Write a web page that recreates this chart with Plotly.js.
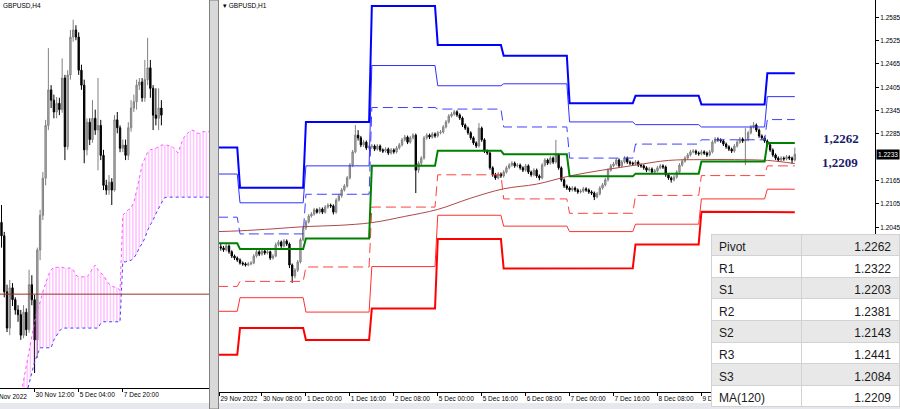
<!DOCTYPE html>
<html><head><meta charset="utf-8">
<script src="https://cdn.plot.ly/plotly-3.0.1.min.js"></script>
<style>html,body{margin:0;padding:0;background:#fff;overflow:hidden}#chart{width:900px;height:409px}</style>
</head><body><div id="chart"></div>
<script>
// ---------- LEFT PANEL: GBPUSD H4 ----------
const h4Open = [1.2094,1.2077,1.2006,1.1960,1.2011,1.1996,1.1983,1.1977,1.1951,1.1980,1.1958,1.2015,1.1996,1.1945,1.2059,1.2103,1.2150,1.2217,1.2262,1.2249,1.2234,1.2245,1.2237,1.2277,1.2190,1.2281,1.2329,1.2338,1.2329,1.2287,1.2268,1.2186,1.2221,1.2199,1.2226,1.2211,1.2217,1.2179,1.2141,1.2135,1.2145,1.2135,1.2224,1.2214,1.2188,1.2192,1.2179,1.2214,1.2239,1.2247,1.2268,1.2272,1.2252,1.2275,1.2290,1.2264,1.2230,1.2226,1.2239];
const h4High = [1.2116,1.2082,1.2015,1.2021,1.2017,1.1999,1.1989,1.1983,1.1989,1.1985,1.2034,1.2027,1.2002,1.2062,1.2110,1.2158,1.2224,1.2315,1.2268,1.2256,1.2253,1.2252,1.2302,1.2281,1.2287,1.2338,1.2351,1.2344,1.2335,1.2294,1.2275,1.2226,1.2226,1.2249,1.2237,1.2277,1.2224,1.2186,1.2148,1.2154,1.2150,1.2230,1.2234,1.2217,1.2199,1.2199,1.2221,1.2249,1.2256,1.2275,1.2277,1.2277,1.2300,1.2328,1.2300,1.2268,1.2264,1.2264,1.2249];
const h4Low = [1.2062,1.1999,1.1955,1.1951,1.1988,1.1977,1.1968,1.1945,1.1947,1.1950,1.1954,1.1989,1.1903,1.1922,1.2046,1.2097,1.2141,1.2211,1.2239,1.2226,1.2226,1.2230,1.2233,1.2173,1.2186,1.2275,1.2323,1.2325,1.2281,1.2262,1.2169,1.2179,1.2192,1.2195,1.2205,1.2160,1.2173,1.2135,1.2129,1.2129,1.2116,1.2133,1.2207,1.2183,1.2183,1.2173,1.2173,1.2209,1.2234,1.2237,1.2262,1.2247,1.2247,1.2268,1.2252,1.2211,1.2217,1.2211,1.2217];
const h4Close = [1.2077,1.2006,1.1960,1.2011,1.1996,1.1983,1.1977,1.1951,1.1980,1.1958,1.2015,1.1996,1.1945,1.2059,1.2103,1.2150,1.2217,1.2262,1.2249,1.2234,1.2245,1.2237,1.2277,1.2190,1.2281,1.2329,1.2338,1.2329,1.2287,1.2268,1.2186,1.2221,1.2199,1.2226,1.2211,1.2217,1.2179,1.2141,1.2135,1.2145,1.2135,1.2224,1.2214,1.2188,1.2192,1.2179,1.2214,1.2239,1.2247,1.2268,1.2272,1.2252,1.2275,1.2290,1.2264,1.2230,1.2226,1.2239,1.2230];
const cloudFirstBar = 6;
const cloudUpper = [1.1856,1.1875,1.1894,1.1913,1.1932,1.1951,1.1968,1.1983,1.1993,1.2006,1.2017,1.2027,1.2034,1.2037,1.2037,1.2037,1.2037,1.2036,1.2036,1.2036,1.2034,1.2027,1.2025,1.2025,1.2025,1.2025,1.2029,1.2036,1.2040,1.2034,1.2030,1.2027,1.2021,1.2016,1.2013,1.2012,1.2011,1.2008,1.2103,1.2107,1.2110,1.2113,1.2119,1.2133,1.2150,1.2167,1.2176,1.2183,1.2186,1.2187,1.2188,1.2190,1.2192,1.2192,1.2192,1.2191,1.2190,1.2186,1.2182,1.2192,1.2201,1.2205,1.2209,1.2211,1.2210,1.2207,1.2207,1.2209,1.2209,1.2209,1.2209];
const cloudLower = [1.1843,1.1843,1.1862,1.1875,1.1888,1.1904,1.1917,1.1926,1.1935,1.1935,1.1935,1.1935,1.1935,1.1945,1.1951,1.1956,1.1960,1.1960,1.1960,1.1960,1.1960,1.1960,1.1960,1.1960,1.1960,1.1960,1.1960,1.1960,1.1960,1.1960,1.1966,1.1968,1.1968,1.1968,1.1968,1.1968,1.1968,1.1968,1.2044,1.2044,1.2045,1.2046,1.2049,1.2054,1.2062,1.2067,1.2074,1.2084,1.2091,1.2097,1.2105,1.2112,1.2119,1.2125,1.2126,1.2126,1.2126,1.2126,1.2126,1.2126,1.2126,1.2126,1.2126,1.2126,1.2126,1.2126,1.2126,1.2126,1.2126,1.2126,1.2126];
const h4Level = 1.2003;
const h4TickBars = [12, 28, 44];
const h4TickText = ['30 Nov 12:00', '5 Dec 04:00', '7 Dec 20:00'];

// ---------- RIGHT PANEL: GBPUSD H1 ----------
const h1FirstBar = -7;
const h1Open = [1.1995,1.1992,1.1987,1.1997,1.1982,1.1971,1.1966,
1.1961,1.1953,1.1951,1.1948,1.1951,1.1953,1.1971,1.1982,
1.1976,1.1984,1.1979,1.1982,1.1966,1.1971,1.2000,1.2007,
1.1997,1.2010,1.2002,1.1948,1.1920,1.1935,1.1956,1.2013,
1.2043,1.2059,1.2074,1.2079,1.2090,1.2084,1.2092,1.2084,
1.2097,1.2102,1.2100,1.2084,1.2115,1.2126,1.2141,1.2151,
1.2172,1.2205,1.2239,1.2282,1.2275,1.2257,1.2264,1.2249,
1.2252,1.2254,1.2246,1.2254,1.2244,1.2241,1.2246,1.2236,
1.2244,1.2239,1.2249,1.2257,1.2270,1.2277,1.2264,1.2275,
1.2282,1.2192,1.2210,1.2223,1.2275,1.2282,1.2277,1.2285,
1.2280,1.2288,1.2290,1.2303,1.2316,1.2331,1.2336,1.2342,
1.2334,1.2326,1.2308,1.2300,1.2288,1.2275,1.2262,1.2254,
1.2300,1.2270,1.2241,1.2236,1.2198,1.2180,1.2172,1.2182,
1.2177,1.2187,1.2198,1.2205,1.2210,1.2203,1.2205,1.2198,
1.2192,1.2203,1.2187,1.2180,1.2192,1.2177,1.2172,1.2205,
1.2218,1.2210,1.2223,1.2213,1.2231,1.2198,1.2167,1.2151,
1.2146,1.2141,1.2146,1.2141,1.2136,1.2138,1.2144,1.2141,
1.2136,1.2133,1.2123,1.2131,1.2146,1.2154,1.2167,1.2192,
1.2203,1.2208,1.2218,1.2203,1.2213,1.2223,1.2213,1.2210,
1.2208,1.2213,1.2205,1.2203,1.2198,1.2192,1.2195,1.2187,
1.2190,1.2198,1.2203,1.2200,1.2180,1.2172,1.2167,1.2174,
1.2187,1.2205,1.2215,1.2223,1.2231,1.2239,1.2241,1.2236,
1.2234,1.2239,1.2236,1.2231,1.2239,1.2264,1.2272,1.2270,
1.2267,1.2259,1.2252,1.2246,1.2241,1.2254,1.2264,1.2272,
1.2267,1.2270,1.2288,1.2303,1.2308,1.2295,1.2280,1.2275,
1.2267,1.2257,1.2244,1.2231,1.2223,1.2218,1.2223,1.2221,
1.2226,1.2223,1.2218];
const h1High = [1.2002,1.1997,1.2003,1.2001,1.1986,1.1975,1.1970,
1.1965,1.1957,1.1955,1.1956,1.1958,1.1976,1.1987,1.1986,
1.1989,1.1988,1.1987,1.1985,1.1976,1.2006,1.2012,1.2011,
1.2015,1.2014,1.2006,1.1952,1.1940,1.1961,1.2018,1.2048,
1.2064,1.2079,1.2084,1.2095,1.2094,1.2097,1.2096,1.2102,
1.2107,1.2106,1.2104,1.2120,1.2131,1.2146,1.2156,1.2177,
1.2210,1.2244,1.2308,1.2295,1.2280,1.2270,1.2268,1.2257,
1.2259,1.2258,1.2259,1.2258,1.2248,1.2251,1.2250,1.2249,
1.2248,1.2254,1.2262,1.2275,1.2283,1.2281,1.2280,1.2287,
1.2286,1.2215,1.2228,1.2280,1.2287,1.2286,1.2290,1.2289,
1.2293,1.2295,1.2308,1.2321,1.2336,1.2341,1.2347,1.2346,
1.2338,1.2330,1.2312,1.2304,1.2292,1.2279,1.2266,1.2313,
1.2304,1.2274,1.2245,1.2240,1.2202,1.2185,1.2187,1.2186,
1.2192,1.2203,1.2210,1.2215,1.2214,1.2210,1.2209,1.2202,
1.2208,1.2207,1.2191,1.2197,1.2196,1.2181,1.2210,1.2223,
1.2222,1.2228,1.2227,1.2270,1.2235,1.2202,1.2171,1.2155,
1.2150,1.2151,1.2150,1.2145,1.2143,1.2149,1.2148,1.2145,
1.2140,1.2137,1.2136,1.2151,1.2159,1.2172,1.2197,1.2208,
1.2213,1.2223,1.2222,1.2218,1.2228,1.2227,1.2217,1.2214,
1.2218,1.2217,1.2209,1.2207,1.2202,1.2200,1.2199,1.2195,
1.2203,1.2208,1.2207,1.2204,1.2184,1.2176,1.2179,1.2192,
1.2210,1.2220,1.2228,1.2236,1.2244,1.2246,1.2245,1.2240,
1.2244,1.2243,1.2240,1.2244,1.2269,1.2277,1.2276,1.2274,
1.2271,1.2263,1.2256,1.2250,1.2259,1.2269,1.2277,1.2276,
1.2300,1.2293,1.2308,1.2316,1.2312,1.2299,1.2284,1.2279,
1.2271,1.2261,1.2248,1.2235,1.2227,1.2228,1.2227,1.2231,
1.2230,1.2227,1.2250];
const h1Low = [1.1985,1.1982,1.1983,1.1977,1.1966,1.1961,1.1956,
1.1949,1.1946,1.1944,1.1945,1.1947,1.1950,1.1967,1.1971,
1.1972,1.1974,1.1975,1.1961,1.1962,1.1968,1.1996,1.1992,
1.1993,1.1997,1.1940,1.1902,1.1914,1.1930,1.1952,1.2009,
1.2038,1.2055,1.2070,1.2075,1.2080,1.2080,1.2079,1.2080,
1.2093,1.2095,1.2078,1.2080,1.2111,1.2121,1.2137,1.2147,
1.2168,1.2200,1.2235,1.2268,1.2251,1.2252,1.2244,1.2245,
1.2247,1.2241,1.2242,1.2239,1.2236,1.2237,1.2231,1.2232,
1.2234,1.2235,1.2245,1.2253,1.2266,1.2259,1.2260,1.2271,
1.2133,1.2185,1.2205,1.2219,1.2270,1.2272,1.2273,1.2275,
1.2276,1.2284,1.2286,1.2299,1.2312,1.2327,1.2332,1.2329,
1.2321,1.2303,1.2295,1.2283,1.2270,1.2257,1.2249,1.2250,
1.2265,1.2236,1.2231,1.2193,1.2175,1.2167,1.2168,1.2172,
1.2173,1.2183,1.2194,1.2201,1.2198,1.2199,1.2193,1.2187,
1.2188,1.2182,1.2175,1.2176,1.2172,1.2166,1.2168,1.2201,
1.2205,1.2206,1.2208,1.2209,1.2193,1.2162,1.2146,1.2141,
1.2136,1.2137,1.2136,1.2131,1.2132,1.2134,1.2136,1.2131,
1.2128,1.2115,1.2119,1.2127,1.2142,1.2150,1.2163,1.2188,
1.2199,1.2204,1.2198,1.2199,1.2209,1.2208,1.2205,1.2203,
1.2204,1.2200,1.2198,1.2193,1.2187,1.2188,1.2182,1.2183,
1.2186,1.2194,1.2195,1.2175,1.2167,1.2160,1.2163,1.2170,
1.2183,1.2201,1.2211,1.2219,1.2227,1.2235,1.2231,1.2229,
1.2230,1.2231,1.2226,1.2227,1.2235,1.2260,1.2265,1.2262,
1.2254,1.2247,1.2241,1.2236,1.2237,1.2250,1.2260,1.2262,
1.2205,1.2266,1.2284,1.2299,1.2290,1.2275,1.2270,1.2262,
1.2252,1.2239,1.2226,1.2218,1.2213,1.2214,1.2216,1.2217,
1.2218,1.2208,1.2214];
const h1Close = [1.1992,1.1987,1.1997,1.1982,1.1971,1.1966,1.1961,
1.1953,1.1951,1.1948,1.1951,1.1953,1.1971,1.1982,1.1976,
1.1984,1.1979,1.1982,1.1966,1.1971,1.2000,1.2007,1.1997,
1.2010,1.2002,1.1948,1.1920,1.1935,1.1956,1.2013,1.2043,
1.2059,1.2074,1.2079,1.2090,1.2084,1.2092,1.2084,1.2097,
1.2102,1.2100,1.2084,1.2115,1.2126,1.2141,1.2151,1.2172,
1.2205,1.2239,1.2282,1.2275,1.2257,1.2264,1.2249,1.2252,
1.2254,1.2246,1.2254,1.2244,1.2241,1.2246,1.2236,1.2244,
1.2239,1.2249,1.2257,1.2270,1.2277,1.2264,1.2275,1.2282,
1.2192,1.2210,1.2223,1.2275,1.2282,1.2277,1.2285,1.2280,
1.2288,1.2290,1.2303,1.2316,1.2331,1.2336,1.2342,1.2334,
1.2326,1.2308,1.2300,1.2288,1.2275,1.2262,1.2254,1.2300,
1.2270,1.2241,1.2236,1.2198,1.2180,1.2172,1.2182,1.2177,
1.2187,1.2198,1.2205,1.2210,1.2203,1.2205,1.2198,1.2192,
1.2203,1.2187,1.2180,1.2192,1.2177,1.2172,1.2205,1.2218,
1.2210,1.2223,1.2213,1.2231,1.2198,1.2167,1.2151,1.2146,
1.2141,1.2146,1.2141,1.2136,1.2138,1.2144,1.2141,1.2136,
1.2133,1.2123,1.2131,1.2146,1.2154,1.2167,1.2192,1.2203,
1.2208,1.2218,1.2203,1.2213,1.2223,1.2213,1.2210,1.2208,
1.2213,1.2205,1.2203,1.2198,1.2192,1.2195,1.2187,1.2190,
1.2198,1.2203,1.2200,1.2180,1.2172,1.2167,1.2174,1.2187,
1.2205,1.2215,1.2223,1.2231,1.2239,1.2241,1.2236,1.2234,
1.2239,1.2236,1.2231,1.2239,1.2264,1.2272,1.2270,1.2267,
1.2259,1.2252,1.2246,1.2241,1.2254,1.2264,1.2272,1.2267,
1.2270,1.2288,1.2303,1.2308,1.2295,1.2280,1.2275,1.2267,
1.2257,1.2244,1.2231,1.2223,1.2218,1.2223,1.2221,1.2226,
1.2223,1.2218,1.2233];

// Daily pivot levels (29 Nov, 30 Nov, 1 Dec, 2 Dec, 5 Dec, 6 Dec, 7 Dec, 8 Dec, 9 Dec, current day)
const barsPerDay = 24;
const R3 = [1.2250,1.2147,1.2316,1.2614,1.2514,1.2486,1.2364,1.2383,1.2361,1.2441];
const R2 = [1.2182,1.2108,1.2203,1.2461,1.2409,1.2414,1.2316,1.2309,1.2303,1.2381];
const R1 = [1.2071,1.2028,1.2130,1.2353,1.2349,1.2303,1.2223,1.2259,1.2270,1.2322];
const PP = [1.2004,1.1989,1.2016,1.2203,1.2242,1.2233,1.2176,1.2183,1.2214,1.2262];
const S1 = [1.1893,1.1906,1.1943,1.2097,1.2180,1.2118,1.2081,1.2127,1.2178,1.2203];
const S2 = [1.1829,1.1864,1.1827,1.1944,1.2076,1.2048,1.2034,1.2053,1.2118,1.2143];
const S3 = [1.1717,1.1786,1.1755,1.1836,1.2015,1.1939,1.1940,1.2001,1.2085,1.2084];

// MA(120) read at sample bars
const maBars = [-8,0,12,24,36,48,60,72,84,96,108,120,132,144,156,168,180,192,202];
const maVals = [1.2034,1.2036,1.2041,1.2047,1.2050,1.2057,1.2073,1.2091,1.2120,1.2144,1.2156,1.2177,1.2192,1.2205,1.2217,1.2219,1.2219,1.2217,1.2209];

const h1TickBars = [-7.5,8,24,40,56,72,88,104,120,136,152,168];
const h1TickText = ['29 Nov 2022','30 Nov 08:00','1 Dec 00:00','1 Dec 16:00','2 Dec 08:00','5 Dec 00:00','5 Dec 16:00','6 Dec 08:00','7 Dec 00:00','7 Dec 16:00','8 Dec 08:00','9 Dec 00:00'];
const priceTicks = [1.2045,1.2105,1.2165,1.2285,1.2345,1.2405,1.2465,1.2525,1.2585];
const lastPrice = 1.2233;

const tableLabels = ['Pivot','R1','S1','R2','S2','R3','S3','MA(120)'];
const tableValues = ['1.2262','1.2322','1.2203','1.2381','1.2143','1.2441','1.2084','1.2209'];

// ---------- build ----------
const W = 900, H = 409;
const px = v => v / W;
const py = v => 1 - v / H;

const h4Bars = h4Close.map((_, k) => k);
const cloudBars = cloudUpper.map((_, k) => cloudFirstBar + k);
const h1Bars = h1Close.map((_, k) => h1FirstBar + k);
const lineBars = [];
for (let i = -8; i <= 202; i++) lineBars.push(i);
const dayIndex = i => Math.floor(i / barsPerDay) + 1;
const perBar = levels => lineBars.map(i => levels[dayIndex(i)]);

const traces = [];
// left panel
traces.push({type:'scatter', mode:'lines', x:cloudBars, y:cloudLower, xaxis:'x', yaxis:'y',
  line:{color:'#4040ff', width:1, dash:'dot'}, hoverinfo:'skip'});
traces.push({type:'scatter', mode:'lines', x:cloudBars, y:cloudUpper, xaxis:'x', yaxis:'y',
  line:{color:'#ff55ff', width:1, dash:'dot'}, fill:'tonexty', fillcolor:'rgba(0,0,0,0)',
  fillpattern:{shape:'|', fgcolor:'#ff66ff', fgopacity:0.85, bgcolor:'rgba(255,255,255,0)', size:3.2, solidity:0.22},
  hoverinfo:'skip'});
traces.push({type:'scatter', mode:'lines', x:[-1, 80], y:[h4Level, h4Level], xaxis:'x', yaxis:'y',
  line:{color:'#9b2d2d', width:1}, hoverinfo:'skip'});
traces.push({type:'candlestick', x:h4Bars, open:h4Open, high:h4High, low:h4Low, close:h4Close,
  xaxis:'x', yaxis:'y', whiskerwidth:0,
  increasing:{line:{color:'#808080', width:1}, fillcolor:'#b4b4b4'},
  decreasing:{line:{color:'#000000', width:1}, fillcolor:'#000000'}, hoverinfo:'skip'});

// right panel
traces.push({type:'scatter', mode:'lines', x:maBars, y:maVals, xaxis:'x2', yaxis:'y2',
  line:{color:'#b04848', width:1, shape:'spline'}, hoverinfo:'skip'});
const levelStyles = [
  [S3, '#ff0000', 2, 'solid'],
  [S2, '#ff3030', 1, 'solid'],
  [S1, '#ff4040', 1, '10px,5px'],
  [R1, '#4040ff', 1, '10px,5px'],
  [R2, '#3030ff', 1, 'solid'],
  [R3, '#0000ff', 2, 'solid'],
  [PP, '#008000', 2, 'solid']
];
levelStyles.forEach(([lv, c, w, d]) => {
  traces.push({type:'scatter', mode:'lines', x:lineBars, y:perBar(lv), xaxis:'x2', yaxis:'y2',
    line:{color:c, width:w, dash:d}, hoverinfo:'skip'});
});
traces.push({type:'candlestick', x:h1Bars, open:h1Open, high:h1High, low:h1Low, close:h1Close,
  xaxis:'x2', yaxis:'y2', whiskerwidth:0,
  increasing:{line:{color:'#808080', width:1}, fillcolor:'#b4b4b4'},
  decreasing:{line:{color:'#000000', width:1}, fillcolor:'#000000'}, hoverinfo:'skip'});

// table
const rowH = 21.6;
const gray = '#e8e8e8', white = '#ffffff';
const bodyColors = tableLabels.slice(1).map((_, k) => (k % 2 === 0 ? white : gray));
traces.push({type:'table',
  domain:{x:[px(711), 1], y:[0, py(234)]},
  columnwidth:[91, 98],
  header:{values:[tableLabels[0], tableValues[0]], height:rowH, align:['left','right'],
    fill:{color:gray}, line:{color:'#d2d2d2', width:1},
    font:{family:'Liberation Sans, Arial, sans-serif', size:12, color:'#1a1a1a'}},
  cells:{values:[tableLabels.slice(1), tableValues.slice(1)], height:rowH, align:['left','right'],
    fill:{color:[bodyColors, bodyColors]}, line:{color:'#d2d2d2', width:1},
    font:{family:'Liberation Sans, Arial, sans-serif', size:12, color:'#1a1a1a'}}
});

const axFont = {family:'Liberation Sans, Arial, sans-serif', size:6.5, color:'#000'};
const layout = {
  width:W, height:H, margin:{l:0, r:0, t:0, b:0},
  paper_bgcolor:'#ffffff', plot_bgcolor:'#ffffff', showlegend:false,
  font:axFont,
  xaxis:{domain:[0, px(209.5)], range:[-0.545, 75.45], anchor:'y', showgrid:false, zeroline:false,
    showline:true, linecolor:'#000', linewidth:1, ticks:'outside', ticklen:3, tickcolor:'#000',
    tickmode:'array', tickvals:h4TickBars, ticktext:h4TickText, ticklabelposition:'outside right',
    tickangle:0, tickfont:axFont, rangeslider:{visible:false}, fixedrange:true},
  yaxis:{domain:[py(388), 1], range:[1.1884, 1.2376], anchor:'x', visible:false, fixedrange:true},
  xaxis2:{domain:[px(219), px(875)], range:[-7.65, 231.2], anchor:'y2', showgrid:false, zeroline:false,
    showline:true, linecolor:'#000', linewidth:1, ticks:'outside', ticklen:3, tickcolor:'#000',
    tickmode:'array', tickvals:h1TickBars, ticktext:h1TickText, ticklabelposition:'outside right',
    tickangle:0, tickfont:axFont, rangeslider:{visible:false}, fixedrange:true},
  yaxis2:{domain:[py(392), 1], range:[1.16215, 1.26295], anchor:'x2', side:'right', showgrid:false,
    zeroline:false, showline:true, linecolor:'#000', linewidth:1, ticks:'outside', ticklen:3,
    tickcolor:'#000', tickmode:'array', tickvals:priceTicks, ticktext:priceTicks.map(v => v.toFixed(4)),
    tickfont:axFont, fixedrange:true},
  shapes:[
    {type:'rect', xref:'paper', yref:'paper', x0:px(209.5), x1:px(218.5), y0:0, y1:1,
      fillcolor:'#d9d9d9', line:{color:'#7f7f7f', width:1}},
    {type:'rect', xref:'paper', yref:'paper', x0:0, x1:1, y0:0, y1:py(403),
      fillcolor:'#e6e8ee', line:{width:0}, layer:'below'}
  ],
  annotations:[
    {xref:'paper', yref:'paper', x:px(1), y:py(6), xanchor:'left', yanchor:'middle', showarrow:false,
      text:'GBPUSD,H4', font:axFont},
    {xref:'paper', yref:'paper', x:px(221), y:py(6), xanchor:'left', yanchor:'middle', showarrow:false,
      text:'▾ GBPUSD,H1', font:axFont},
    {xref:'paper', yref:'paper', x:px(-12), y:py(396.5), xanchor:'left', yanchor:'middle', showarrow:false,
      text:'29 Nov 2022', font:axFont},
    {xref:'paper', yref:'paper', x:px(840.5), y:py(138), xanchor:'center', yanchor:'middle', showarrow:false,
      text:'<b>' + PP[PP.length - 1].toFixed(4).replace('.', ',') + '</b>',
      font:{family:'Liberation Serif, Times New Roman, serif', size:13, color:'#1b1b6b'}},
    {xref:'paper', yref:'paper', x:px(839.5), y:py(162.5), xanchor:'center', yanchor:'middle', showarrow:false,
      text:'<b>' + maVals[maVals.length - 1].toFixed(4).replace('.', ',') + '</b>',
      font:{family:'Liberation Serif, Times New Roman, serif', size:13, color:'#1b1b6b'}},
    {xref:'paper', yref:'y2', x:px(876), y:lastPrice, xanchor:'left', yanchor:'middle', showarrow:false,
      text:lastPrice.toFixed(4), bgcolor:'#000000', borderpad:1,
      font:{family:'Liberation Sans, Arial, sans-serif', size:6.5, color:'#ffffff'}}
  ]
};

Plotly.newPlot('chart', traces, layout, {staticPlot:true, displayModeBar:false});
</script></body></html>
